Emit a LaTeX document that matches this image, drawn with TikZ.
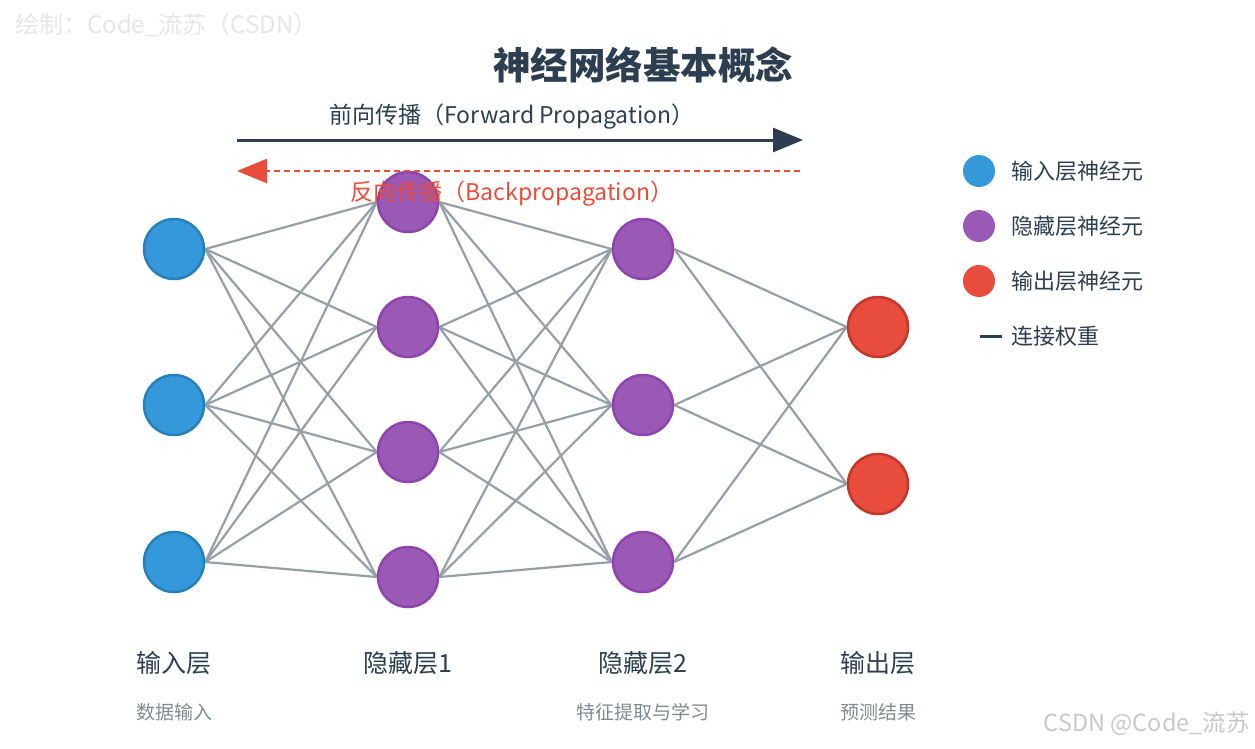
\documentclass[tikz,border=0pt]{standalone}
\usepackage{fontspec}
\setmainfont{Noto Sans CJK SC}
\usetikzlibrary{positioning,arrows.meta}
\pgfdeclarelayer{bg}
\pgfsetlayers{bg,main}
\definecolor{txtdark}{HTML}{2C3E50}
\definecolor{txtgray}{HTML}{7F8C8D}
\definecolor{inblue}{HTML}{3498DB}
\definecolor{inblueb}{HTML}{2980B9}
\definecolor{hidpurple}{HTML}{9B59B6}
\definecolor{hidpurpleb}{HTML}{8E44AD}
\definecolor{outred}{HTML}{E74C3C}
\definecolor{outredb}{HTML}{C0392B}
\definecolor{wgray}{HTML}{969EA6}
\definecolor{wmark}{HTML}{E6E6E6}
\definecolor{wmarkb}{HTML}{C8C8C8}
\tikzset{
  neuron/.style={circle,line width=2.5pt,minimum size=60pt,inner sep=0pt},
  inneuron/.style={neuron,fill=inblue,draw=inblueb},
  hidneuron/.style={neuron,fill=hidpurple,draw=hidpurpleb},
  outneuron/.style={neuron,fill=outred,draw=outredb},
  wline/.style={draw=wgray,line width=2.2pt},
  fwd/.style={draw=txtdark,line width=3pt,-{Triangle[length=30pt,width=24pt]}},
  bwd/.style={draw=outred,line width=2.5pt,dash pattern=on 6pt off 4pt,-{Triangle[length=30pt,width=24pt]}},
  legdot/.style={circle,minimum size=32pt,inner sep=0pt},
  legtext/.style={font=\fontsize{22}{26}\selectfont,text=txtdark,inner sep=0pt},
  laylab/.style={font=\fontsize{25}{29}\selectfont,text=txtdark},
  sublab/.style={font=\fontsize{19}{22}\selectfont,text=txtgray}
}
\begin{document}
\begin{tikzpicture}[x=1pt,y=-1pt]
\useasboundingbox (0,0) rectangle (1255,748);
% watermarks
\node[font=\fontsize{24}{28}\selectfont,text=wmark,anchor=west,inner sep=0pt] (wm1) at (15,25) {绘制：Code\_流苏（CSDN）};
\node[font=\fontsize{23.5}{28}\selectfont,text=wmarkb,anchor=east,inner sep=0pt] (wm2) at (1250,724) {CSDN @Code\_流苏};
% title
\node[font=\bfseries\fontsize{37.5}{42}\selectfont,text=txtdark] (title) at (643,65) {神经网络基本概念};
% neurons
\foreach \i/\y in {1/249,2/405,3/562} \node[inneuron] (in\i) at (174,\y) {};
\foreach \i/\y in {1/202,2/327,3/452,4/577} \node[hidneuron] (ha\i) at (408,\y) {};
\foreach \i/\y in {1/249,2/405,3/562} \node[hidneuron] (hb\i) at (643,\y) {};
\foreach \i/\y in {1/327,2/484} \node[outneuron] (out\i) at (878,\y) {};
% weights
\begin{pgfonlayer}{bg}
\foreach \i in {1,2,3} \foreach \j in {1,...,4} \draw[wline] (in\i.east) -- (ha\j.west);
\foreach \i in {1,...,4} \foreach \j in {1,2,3} \draw[wline] (ha\i.east) -- (hb\j.west);
\foreach \i in {1,2,3} \foreach \j in {1,2} \draw[wline] (hb\i.east) -- (out\j.west);
\end{pgfonlayer}
% propagation arrows
\coordinate (fs) at (237,140); \coordinate (fe) at (803,140);
\coordinate (bs) at (800,171); \coordinate (be) at (237,171);
\draw[fwd] (fs) -- (fe);
\draw[bwd] (bs) -- (be);
\node[font=\fontsize{23}{27}\selectfont,text=txtdark] (fwdlab) at (512,117) {前向传播（Forward Propagation）};
\node[font=\fontsize{23}{27}\selectfont,text=outred] (bwdlab) at (512,194) {反向传播（Backpropagation）};
% layer labels
\node[laylab] (l1) at (174,663) {输入层};
\node[laylab] (l2) at (408,663) {隐藏层1};
\node[laylab] (l3) at (643,663) {隐藏层2};
\node[laylab] (l4) at (878,663) {输出层};
\node[sublab] (s1) at (174,712) {数据输入};
\node[sublab] (s3) at (643,712) {特征提取与学习};
\node[sublab] (s4) at (878,712) {预测结果};
% legend
\node[legdot,fill=inblue] (lg1) at (979,171) {};
\node[legdot,fill=hidpurple] (lg2) at (979,226) {};
\node[legdot,fill=outred] (lg3) at (979,281) {};
\node[legtext,right=16pt of lg1] (lt1) {输入层神经元};
\node[legtext,right=16pt of lg2] (lt2) {隐藏层神经元};
\node[legtext,right=16pt of lg3] (lt3) {输出层神经元};
\coordinate (lw1) at (980,336); \coordinate (lw2) at (1002,336);
\draw[txtdark,line width=3pt] (lw1) -- (lw2);
\node[legtext,anchor=west] (lt4) at (1011,336) {连接权重};
\end{tikzpicture}
\end{document}
